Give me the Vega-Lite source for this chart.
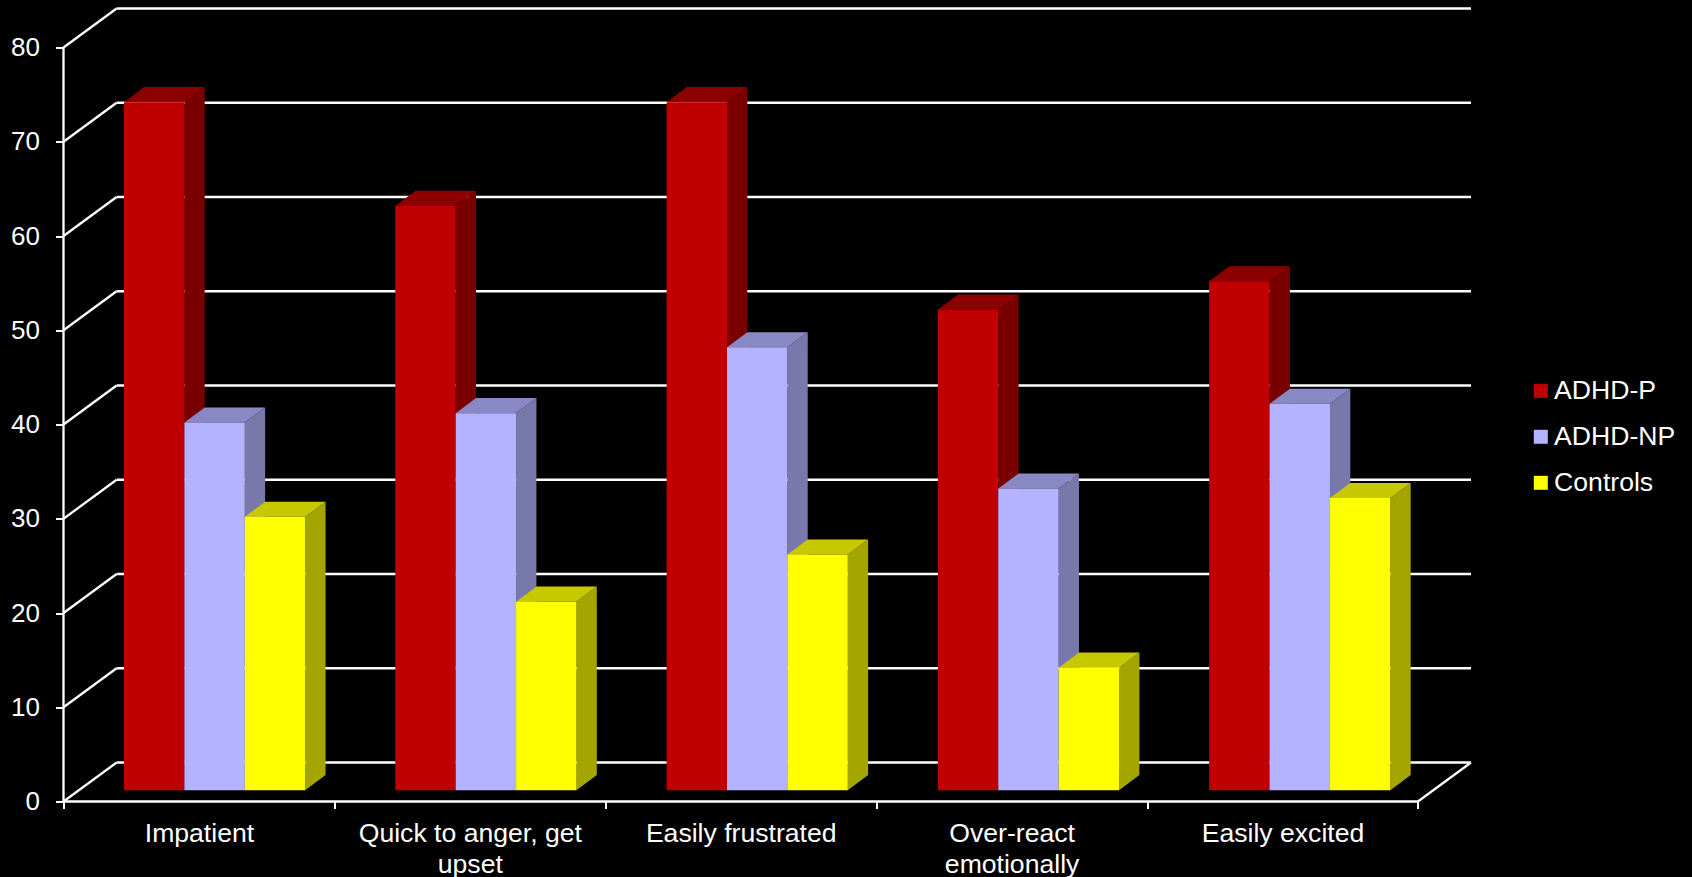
{
"$schema":"https://vega.github.io/schema/vega-lite/v6.json",
"width":1407.5,"height":793,
"autosize":{"type":"none"},
"padding":{"left":63.5,"top":8.5,"right":221,"bottom":75.5},
"background":"#000000",
"config":{"view":{"stroke":null},"font":"Liberation Sans","axis":{"labelFont":"Liberation Sans","labelFontSize":26,"labelColor":"#ffffff","tickColor":"#ffffff","tickWidth":2,"grid":false,"domain":false,"title":null},"legend":{"labelFont":"Liberation Sans","labelFontSize":26.6,"labelColor":"#ffffff"}},
"datasets":{
"bars":[
{"category":"Impatient","series":"ADHD-P","value":73},
{"category":"Impatient","series":"ADHD-NP","value":39},
{"category":"Impatient","series":"Controls","value":29},
{"category":"Quick to anger, get upset","series":"ADHD-P","value":62},
{"category":"Quick to anger, get upset","series":"ADHD-NP","value":40},
{"category":"Quick to anger, get upset","series":"Controls","value":20},
{"category":"Easily frustrated","series":"ADHD-P","value":73},
{"category":"Easily frustrated","series":"ADHD-NP","value":47},
{"category":"Easily frustrated","series":"Controls","value":25},
{"category":"Over-react emotionally","series":"ADHD-P","value":51},
{"category":"Over-react emotionally","series":"ADHD-NP","value":32},
{"category":"Over-react emotionally","series":"Controls","value":13},
{"category":"Easily excited","series":"ADHD-P","value":54},
{"category":"Easily excited","series":"ADHD-NP","value":41},
{"category":"Easily excited","series":"Controls","value":31}
],
"levels":[{"level":0},{"level":10},{"level":20},{"level":30},{"level":40},{"level":50},{"level":60},{"level":70},{"level":80}]
},
"layer":[
{"data":{"name":"levels"},
 "transform":[{"calculate":"datum.level+4.14","as":"back"},{"calculate":"0.196","as":"bx"},{"calculate":"5.196","as":"ex"}],
 "mark":{"type":"rule","color":"#ffffff","strokeWidth":2.3},
 "encoding":{"x":{"field":"bx","type":"quantitative","scale":{"domain":[0,5.196],"nice":false,"zero":false},"axis":{"orient":"bottom","values":[0,1,2,3,4,5],"labels":false,"tickSize":7}},"x2":{"field":"ex"},
   "y":{"field":"back","type":"quantitative","scale":{"domain":[0,84.14],"nice":false,"zero":false},"axis":{"orient":"left","values":[0,10,20,30,40,50,60,70,80],"tickSize":8,"labelPadding":16}}}},
{"data":{"name":"levels"},
 "transform":[{"calculate":"datum.level+4.14","as":"back"},{"calculate":"0.196","as":"bx"},{"calculate":"0","as":"ax"}],
 "mark":{"type":"rule","color":"#ffffff","strokeWidth":2.3},
 "encoding":{"x":{"field":"ax","type":"quantitative","axis":null},"x2":{"field":"bx"},"y":{"field":"level","type":"quantitative"},"y2":{"field":"back"}}},
{"data":{"values":[{"x":0,"x2":0,"y":0,"y2":80},{"x":0,"x2":5,"y":0,"y2":0},{"x":5,"x2":5.196,"y":0,"y2":4.14}]},
 "mark":{"type":"rule","color":"#ffffff","strokeWidth":2.3},
 "encoding":{"x":{"field":"x","type":"quantitative","axis":null},"x2":{"field":"x2"},"y":{"field":"y","type":"quantitative"},"y2":{"field":"y2"}}},
{"data":{"name":"bars"},
 "transform":[
  {"calculate":"indexof(['Impatient','Quick to anger, get upset','Easily frustrated','Over-react emotionally','Easily excited'],datum.category)","as":"i"},
  {"calculate":"indexof(['ADHD-P','ADHD-NP','Controls'],datum.series)","as":"s"},
  {"calculate":"datum.i*1.0015+0.2234+datum.s*0.223","as":"xL"},
  {"calculate":"datum.xL+0.223","as":"xR"},
  {"calculate":"1.2","as":"yB"},
  {"calculate":"datum.value+1.2","as":"yT"},
  {"calculate":"0","as":"near"},{"calculate":"1","as":"far"},
  {"fold":["near","far"],"as":["end","t"]},
  {"calculate":"datum.xR+datum.t*0.075","as":"sx"},
  {"calculate":"datum.yT+datum.t*1.6","as":"sT"},
  {"calculate":"datum.yB+datum.t*1.6","as":"sB"},
  {"calculate":"datum.xL+datum.t*0.075","as":"tL"}
 ],
 "layer":[
 {"mark":{"type":"area","orient":"vertical"},
  "encoding":{"x":{"field":"sx","type":"quantitative","axis":null},"y":{"field":"sT","type":"quantitative"},"y2":{"field":"sB"},"detail":{"field":"category"},
   "color":{"field":"series","type":"nominal","scale":{"domain":["ADHD-P","ADHD-NP","Controls"],"range":["#7A0000","#7878AA","#A5A500"]},"legend":null}}},
 {"mark":{"type":"area","orient":"horizontal"},
  "encoding":{"y":{"field":"sT","type":"quantitative"},"x":{"field":"tL","type":"quantitative","axis":null},"x2":{"field":"sx"},"detail":{"field":"category"},
   "color":{"field":"series","type":"nominal","scale":{"domain":["ADHD-P","ADHD-NP","Controls"],"range":["#8C0000","#8888C4","#C8C800"]},"legend":null}}},
 {"mark":{"type":"rect"},
  "transform":[{"filter":"datum.t==0"}],
  "encoding":{"x":{"field":"xL","type":"quantitative","axis":null},"x2":{"field":"xR"},"y":{"field":"yB","type":"quantitative"},"y2":{"field":"yT"},
   "color":{"field":"series","type":"nominal","scale":{"domain":["ADHD-P","ADHD-NP","Controls"],"range":["#C00000","#B3B3FF","#FFFF00"]},
    "legend":{"title":null,"orient":"none","legendX":1464,"legendY":369,"symbolType":"square","symbolSize":196,"symbolStrokeWidth":0,"labelOffset":0,"rowPadding":19,"padding":0}}}}
 ],
 "resolve":{"scale":{"color":"independent"}}
},
{"data":{"values":[{"pos":0.5,"y":0}]},
 "mark":{"type":"point","opacity":0},
 "encoding":{"x":{"field":"pos","type":"quantitative","axis":{"orient":"bottom","values":[0.5,1.5,2.5,3.5,4.5],"ticks":false,"labelPadding":19,"labelFontSize":26.6,"labelLimit":500,"labelLineHeight":30.5,"labelExpr":"[['Impatient'],['Quick to anger, get','upset'],['Easily frustrated'],['Over-react','emotionally'],['Easily excited']][floor(datum.value)]"}},"y":{"field":"y","type":"quantitative"}}}
],
"resolve":{"axis":{"x":"independent"}}
}
